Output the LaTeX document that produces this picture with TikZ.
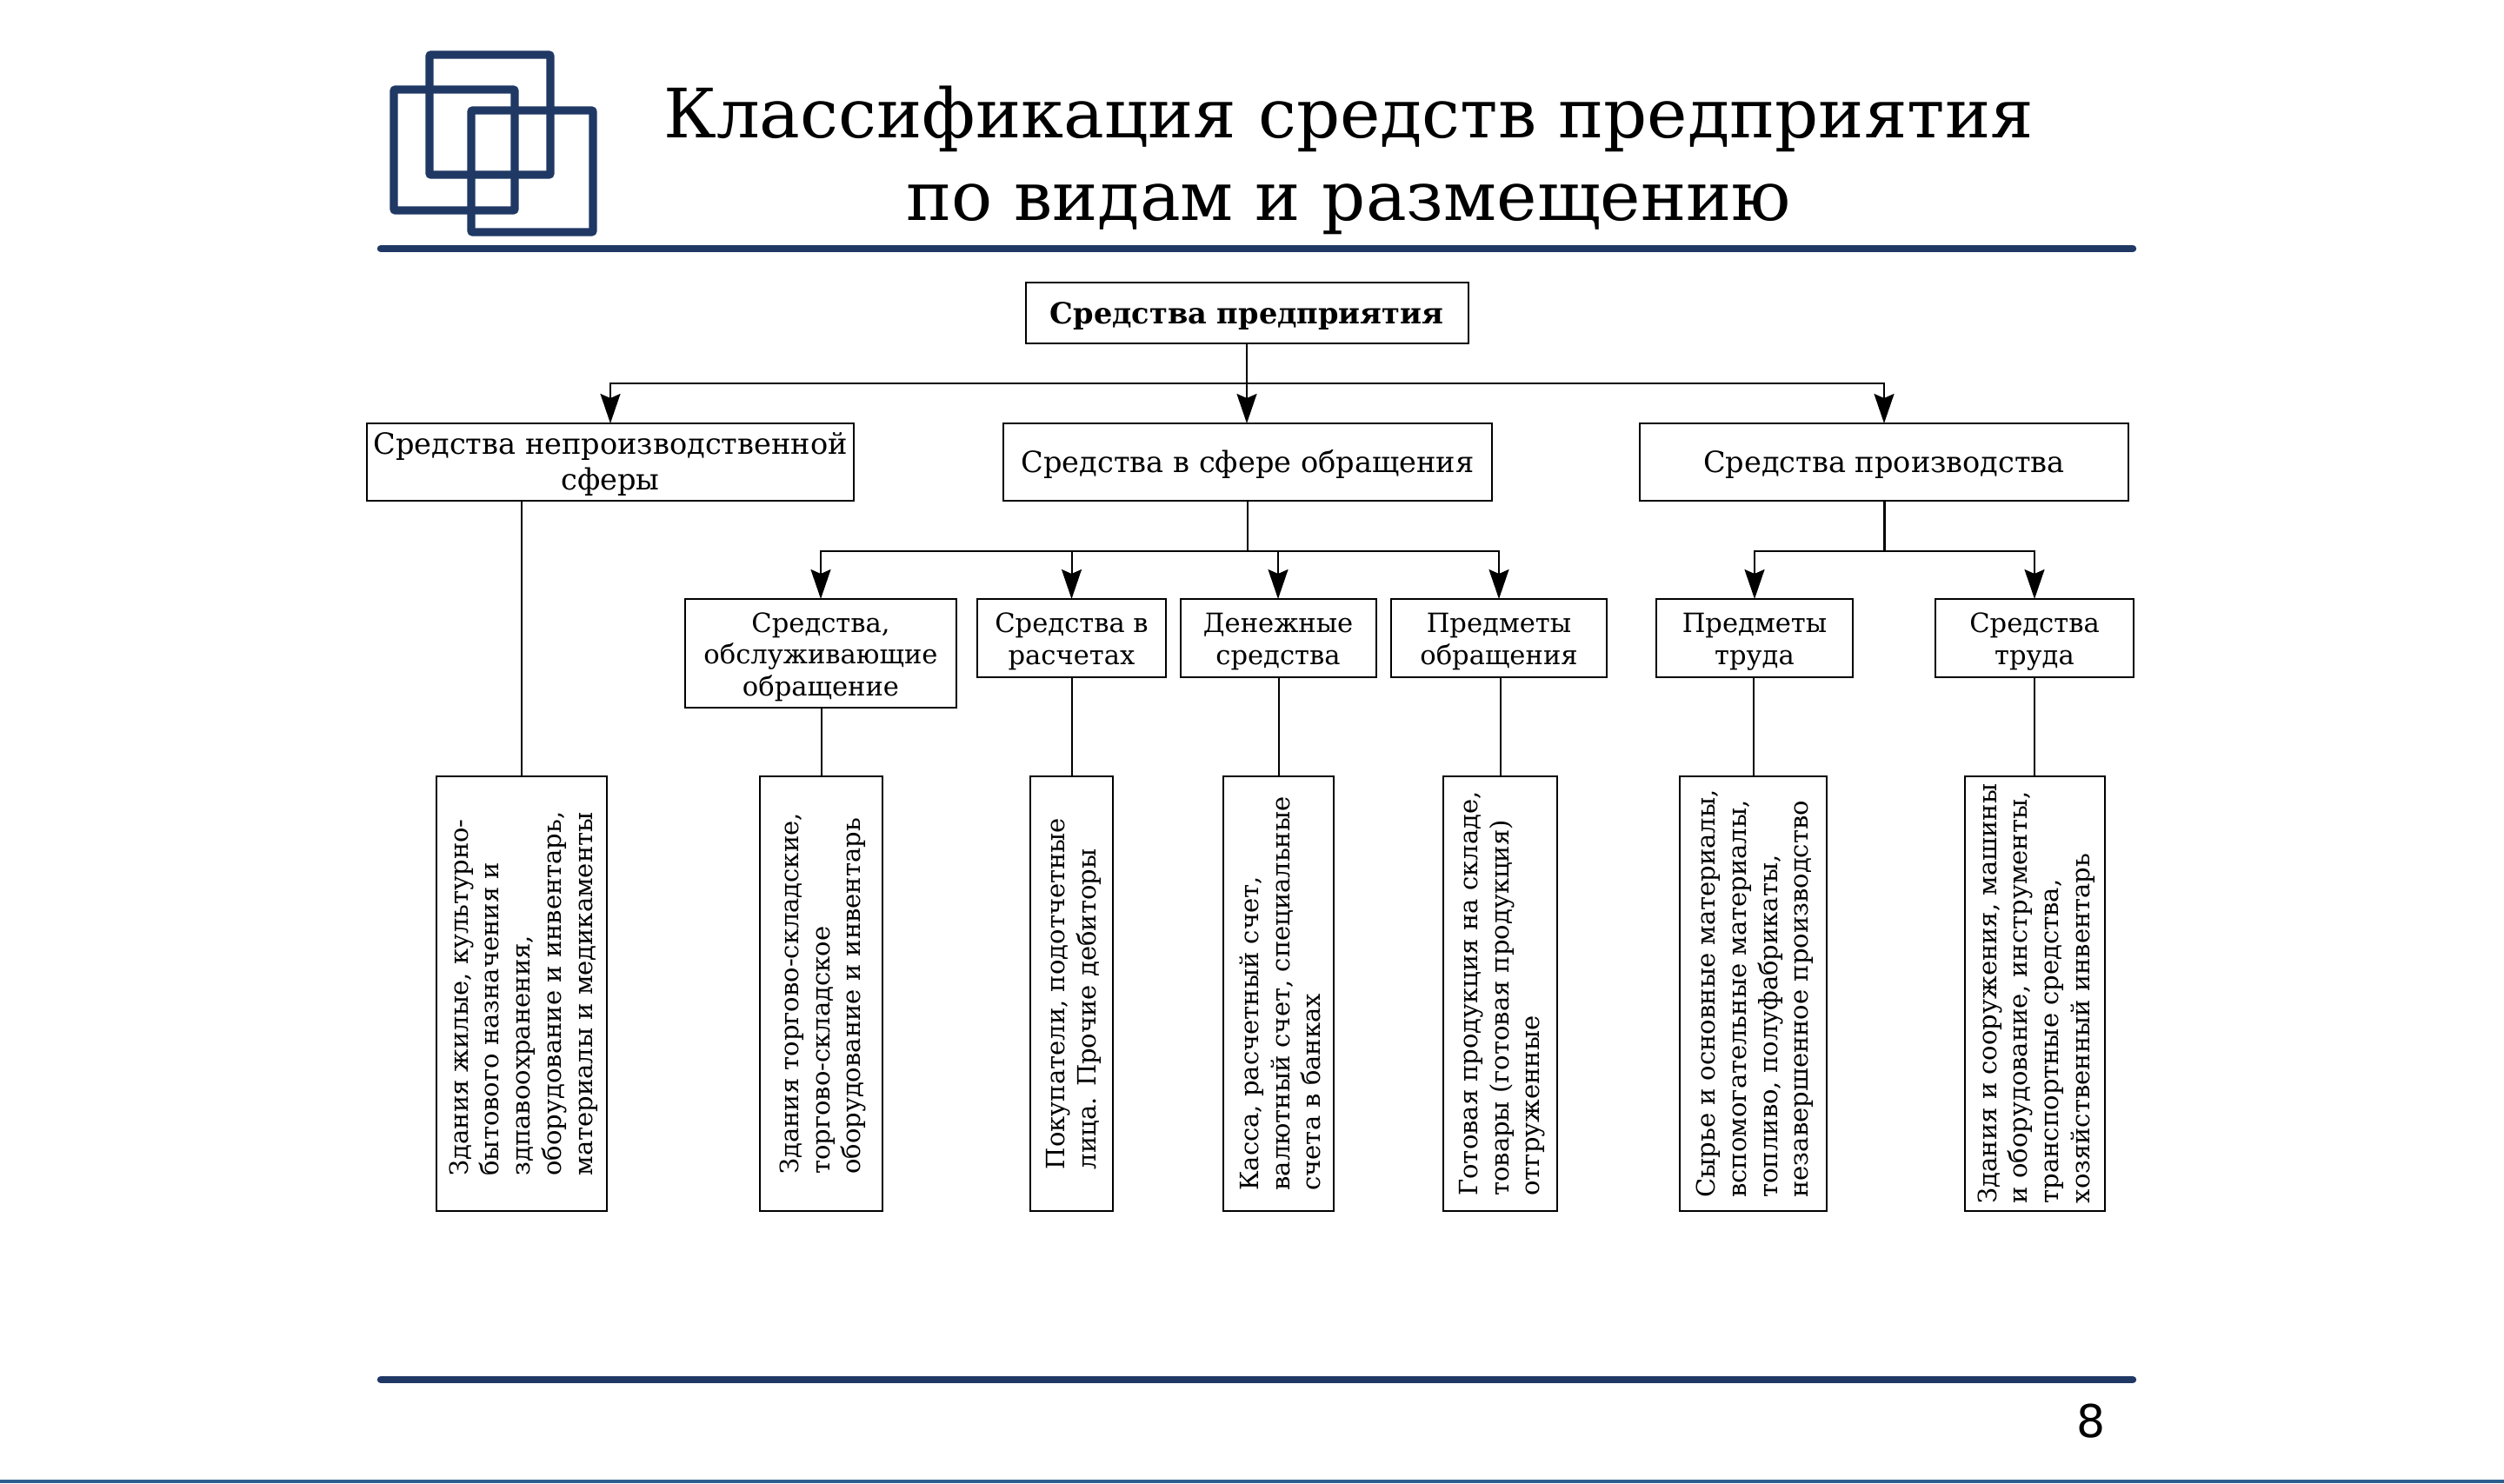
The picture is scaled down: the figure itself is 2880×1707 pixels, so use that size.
\documentclass[tikz,border=0pt]{standalone}
\usepackage{fontspec}
\setmainfont{DejaVu Serif}
\newfontfamily\numfont{DejaVu Sans}
\usetikzlibrary{arrows.meta}
\definecolor{navy}{HTML}{1F3864}
\definecolor{slideblue}{HTML}{2F5F8F}
\newcommand{\firsttall}[1]{\rule{0pt}{#1em}}
\tikzset{
  x=0.5pt,y=-0.5pt,
  boxbase/.style={draw=black,line width=1pt,rectangle,inner sep=0pt,outer sep=0pt,align=center},
  lowertext/.style={execute at begin node={\rule{0pt}{#1em}}},
  lvltwo/.style={boxbase,lowertext=0.95,minimum width=#1*0.5pt,minimum height=44.5pt,font=\fontsize{16.8}{20.5}\selectfont},
  lvlthree/.style={boxbase,minimum width=#1*0.5pt,font=\fontsize{15.3}{18.2}\selectfont},
  leafbox/.style={boxbase,rotate=90,align=left,minimum width=250pt,minimum height=#1*0.5pt,font=\fontsize{14.5}{17.9}\selectfont},
  wire/.style={draw=black,line width=1pt},
  arrowwire/.style={wire,-{Stealth[length=17pt,width=11.5pt,inset=2.5pt]}},
  logoframe/.style={draw=navy,line width=4.7pt,rounded corners=1pt},
  navyrule/.style={draw=navy,line width=4.2pt,line cap=round}
}
\begin{document}
\begin{tikzpicture}
\useasboundingbox (0,0) rectangle (2880,1707);
% logo
\draw[logoframe] (494,63) rectangle (633,201);
\draw[logoframe] (453,103) rectangle (592,242);
\draw[logoframe] (542,127) rectangle (682,267);
\draw[navyrule] (438,286) -- (2453,286);
\draw[navyrule] (438,1587) -- (2453,1587);
\fill[slideblue] (0,1702) rectangle (2880,1706);
% title
\node[align=center,inner sep=0pt,font=\fontsize{39.2}{47.2}\selectfont] (title) at (1551,184.5) {Классификация средств предприятия\\по видам и размещению};
\node[inner sep=0pt,font=\numfont\fontsize{26}{30}\selectfont] (pagenum) at (2405,1635) {8};
% top
\node[boxbase,lowertext=0.95,minimum width=254.5pt,minimum height=35pt,font=\bfseries\fontsize{16.8}{18}\selectfont] (root) at (1434,360) {Средства предприятия};
% level 2
\node[lvltwo=560] (nonprod) at (702,531.5) {\firsttall{0.87}Средства непроизводственной\\сферы};
\node[lvltwo=562] (circ) at (1435,531.5) {Средства в сфере обращения};
\node[lvltwo=562] (prod) at (2167,531.5) {Средства производства};
% level 3
\node[lvlthree=312,minimum height=62.5pt] (serv) at (944,751.5) {\firsttall{1}Средства,\\обслуживающие\\обращение};
\node[lvlthree=217,minimum height=45pt] (calc) at (1232.5,734) {\firsttall{1}Средства в\\расчетах};
\node[lvlthree=225,minimum height=45pt] (cash) at (1470,734) {\firsttall{1}Денежные\\средства};
\node[lvlthree=248,minimum height=45pt] (goods) at (1724,734) {\firsttall{1}Предметы\\обращения};
\node[lvlthree=226,minimum height=45pt] (labobj) at (2018,734) {\firsttall{1}Предметы\\труда};
\node[lvlthree=228,minimum height=45pt] (labmean) at (2340,734) {\firsttall{1}Средства\\труда};
% leaves
\node[leafbox=196] (l1) at (600,1143) {\firsttall{0.88}Здания жилые, культурно-\\бытового назначения и\\здпавоохранения,\\оборудование и инвентарь,\\материалы и медикаменты};
\node[leafbox=141] (l2) at (944.5,1143) {\firsttall{0.88}Здания торгово-складские,\\торгово-складское\\оборудование и инвентарь};
\node[leafbox=95] (l3) at (1232.5,1143) {\firsttall{0.88}Покупатели, подотчетные\\лица. Прочие дебиторы};
\node[leafbox=127] (l4) at (1470.5,1143) {\firsttall{0.88}Касса, расчетный счет,\\валютный счет, специальные\\счета в банках};
\node[leafbox=131] (l5) at (1725.5,1143) {\firsttall{0.88}Готовая продукция на складе,\\товары (готовая продукция)\\отгруженные};
\node[leafbox=169] (l6) at (2016.5,1143) {\firsttall{0.88}Сырье и основные материалы,\\вспомогательные материалы,\\топливо, полуфабрикаты,\\незавершенное производство};
\node[leafbox=161] (l7) at (2340,1143) {\firsttall{0.88}Здания и сооружения, машины\\и оборудование, инструменты,\\транспортные средства,\\хозяйственный инвентарь};
% coordinates
\coordinate (j1) at (1434,441);
\coordinate (j2) at (1434,634);
\coordinate (j3) at (2167,634);
% connectors
\draw[wire] (root.south) -- (root.south |- j1);
\draw[arrowwire] (root.south |- j1) -| (nonprod.north);
\draw[arrowwire] (root.south |- j1) -- (root.south |- circ.north);
\draw[arrowwire] (root.south |- j1) -| (prod.north);
\draw[wire] (circ.south) -- (circ.south |- j2);
\draw[arrowwire] (circ.south |- j2) -| (serv.north);
\draw[arrowwire] (circ.south |- j2) -| (calc.north);
\draw[arrowwire] (circ.south |- j2) -| (cash.north);
\draw[arrowwire] (circ.south |- j2) -| (goods.north);
\draw[wire,line width=1.5pt] (prod.south) -- (prod.south |- j3);
\draw[arrowwire] (prod.south |- j3) -| (labobj.north);
\draw[arrowwire] (prod.south |- j3) -| (labmean.north);
\draw[wire] (l1.east) -- (l1.east |- nonprod.south);
\draw[wire] (l2.east) -- (l2.east |- serv.south);
\draw[wire] (l3.east) -- (l3.east |- calc.south);
\draw[wire] (l4.east) -- (l4.east |- cash.south);
\draw[wire] (l5.east) -- (l5.east |- goods.south);
\draw[wire] (l6.east) -- (l6.east |- labobj.south);
\draw[wire] (l7.east) -- (l7.east |- labmean.south);
\end{tikzpicture}
\end{document}
